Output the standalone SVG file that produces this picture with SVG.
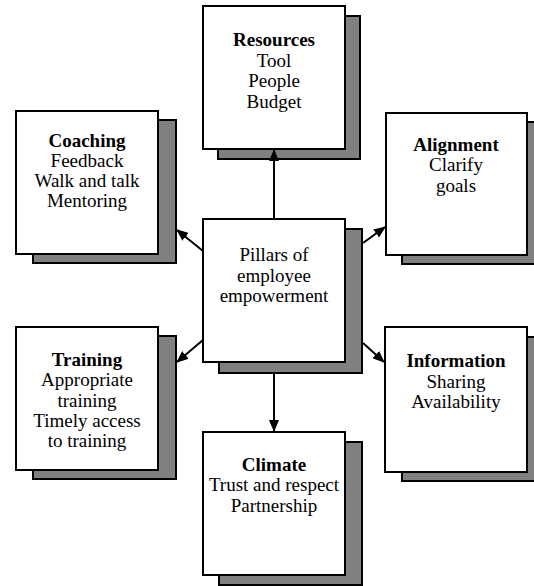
<svg xmlns="http://www.w3.org/2000/svg" width="534" height="586" viewBox="0 0 534 586">
  <style>
    .shadow { fill: #808080; stroke: #000; stroke-width: 2; }
    .front { fill: #fff; stroke: #000; stroke-width: 2; }
    text { font-family: "Liberation Serif", "Times New Roman", serif; font-size: 19px; fill: #000; text-anchor: middle; }
    .b { font-weight: bold; }
    .conn { stroke: #000; stroke-width: 2; fill: none; marker-end: url(#arrow); }
  </style>
  <defs>
    <marker id="arrow" markerUnits="userSpaceOnUse" markerWidth="12" markerHeight="10" refX="11" refY="5" orient="auto">
      <path d="M0,0 L12,5 L0,10 z" fill="#000"/>
    </marker>
  </defs>
  <rect width="534" height="586" fill="#fff"/>

  <g id="resources">
    <rect class="shadow" x="218" y="16" width="142" height="143"/>
    <rect class="front" x="203" y="6" width="142" height="143"/>
    <text x="274" y="46" class="b">Resources</text>
    <text x="274" y="67">Tool</text>
    <text x="274" y="87">People</text>
    <text x="274" y="108">Budget</text>
  </g>

  <g id="coaching">
    <rect class="shadow" x="33" y="120" width="143" height="143"/>
    <rect class="front" x="16" y="111" width="142" height="143"/>
    <text x="87" y="147" class="b">Coaching</text>
    <text x="87" y="167">Feedback</text>
    <text x="87" y="187">Walk and talk</text>
    <text x="87" y="207">Mentoring</text>
  </g>

  <g id="alignment">
    <rect class="shadow" x="402" y="122" width="142" height="142"/>
    <rect class="front" x="386" y="113" width="141" height="142"/>
    <text x="456" y="151" class="b">Alignment</text>
    <text x="456" y="171">Clarify</text>
    <text x="456" y="192">goals</text>
  </g>

  <g id="center">
    <rect class="shadow" x="219" y="229" width="143" height="144"/>
    <rect class="front" x="203" y="219" width="142" height="143"/>
    <text x="274" y="261">Pillars of</text>
    <text x="274" y="282">employee</text>
    <text x="274" y="302">empowerment</text>
  </g>

  <g id="training">
    <rect class="shadow" x="33" y="336" width="143" height="143"/>
    <rect class="front" x="16" y="327" width="142" height="143"/>
    <text x="87" y="366" class="b">Training</text>
    <text x="87" y="386">Appropriate</text>
    <text x="87" y="407">training</text>
    <text x="87" y="427">Timely access</text>
    <text x="87" y="447">to training</text>
  </g>

  <g id="information">
    <rect class="shadow" x="402" y="337" width="142" height="144"/>
    <rect class="front" x="385" y="327" width="142" height="145"/>
    <text x="456" y="367" class="b">Information</text>
    <text x="456" y="388">Sharing</text>
    <text x="456" y="408">Availability</text>
  </g>

  <g id="climate">
    <rect class="shadow" x="219" y="442" width="143" height="143"/>
    <rect class="front" x="203" y="432" width="142" height="143"/>
    <text x="274" y="471" class="b">Climate</text>
    <text x="274" y="491">Trust and respect</text>
    <text x="274" y="512">Partnership</text>
  </g>

  <g id="connectors">
    <line class="conn" x1="274" y1="218" x2="274" y2="150"/>
    <line class="conn" x1="274" y1="374" x2="274" y2="431"/>
    <line class="conn" x1="203" y1="251" x2="177" y2="230"/>
    <line class="conn" x1="203" y1="340" x2="177" y2="362"/>
    <line class="conn" x1="363" y1="243" x2="385" y2="227"/>
    <line class="conn" x1="363" y1="343" x2="384" y2="362"/>
  </g>
</svg>
